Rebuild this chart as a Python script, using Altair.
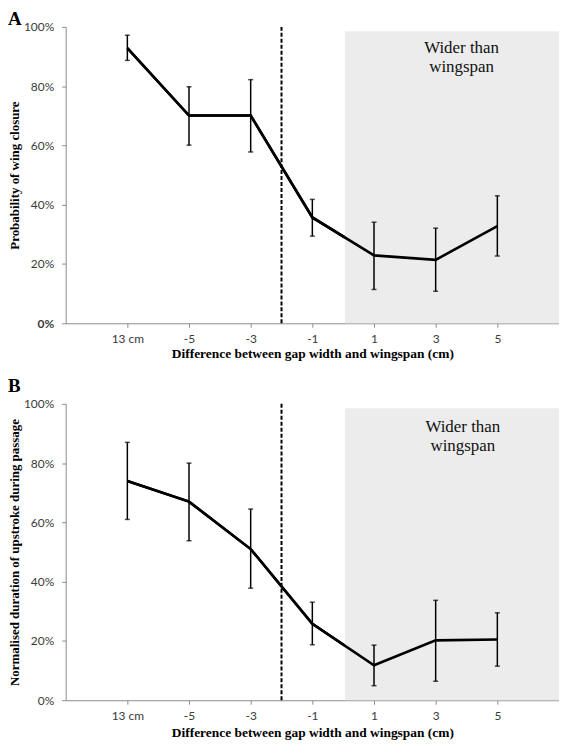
import altair as alt
import pandas as pd

# ---- data ----
categories = ["13 cm", "-5", "-3", "-1", "1", "3", "5"]

a_mean = [92.8, 70.1, 70.1, 35.7, 22.9, 21.4, 32.8]
a_hi = [97.2, 79.8, 82.2, 41.8, 34.1, 32.1, 43.0]
a_lo = [88.7, 60.1, 57.8, 29.4, 11.4, 10.8, 22.7]

b_mean = [74.0, 67.0, 51.0, 25.8, 11.8, 20.2, 20.5]
b_hi = [87.0, 80.0, 64.5, 33.1, 18.6, 33.7, 29.5]
b_lo = [61.0, 53.8, 37.8, 18.7, 4.9, 6.4, 11.5]

# category slots on the axis (1..7), with one empty slot on each side
slots = list(range(1, len(categories) + 1))
x_domain = [0, len(categories) + 1]
threshold_x = 3.5       # dashed line between -3 and -1
wider_from = 4.53       # shaded region start (between -1 and 1)
shade_top = 98.5

SERIF = "Liberation Serif"
SANS = "Lato"

label_expr = "{" + ",".join(f"'{s}':'{c}'" for s, c in zip(slots, categories)) + "}[datum.value]"


def panel(letter, ytitle, mean, hi, lo, text_x, text_y, bold_zero, letter_dy, xtitle_pad):
    df = pd.DataFrame({"slot": slots, "cat": categories, "mean": mean, "hi": hi, "lo": lo})

    yaxis_kwargs = dict(
        values=[0, 20, 40, 60, 80, 100],
        labelExpr="datum.value + '%'",
        grid=False,
        domainColor="#8c8c8c",
        tickColor="#8c8c8c",
        tickSize=4,
        labelFont=SANS,
        labelFontSize=12,
        labelColor="#3a3a3a",
        labelPadding=8,
        title=ytitle,
        titleFont=SERIF,
        titleFontSize=13,
        titleFontWeight="bold",
        titleColor="black",
        titlePadding=2,
    )
    if bold_zero:
        yaxis_kwargs["labelFontWeight"] = {
            "condition": {"test": "datum.value === 0", "value": "bold"},
            "value": "normal",
        }

    x = alt.X(
        "slot:Q",
        scale=alt.Scale(domain=x_domain, nice=False, zero=False),
        axis=alt.Axis(
            values=slots,
            labelExpr=label_expr,
            grid=False,
            domainColor="#8c8c8c",
            tickColor="#8c8c8c",
            tickSize=4,
            labelFont=SANS,
            labelFontSize=12,
            labelColor="#3a3a3a",
            labelPadding=6,
            title="Difference between gap width and wingspan (cm)",
            titleFont=SERIF,
            titleFontSize=13.5,
            titleFontWeight="bold",
            titleColor="black",
            titlePadding=xtitle_pad,
        ),
    )
    y = alt.Y("mean:Q", scale=alt.Scale(domain=[0, 100], nice=False), axis=alt.Axis(**yaxis_kwargs))

    shade_df = pd.DataFrame({"x0": [wider_from], "x1": [x_domain[1]], "y0": [0], "y1": [shade_top]})
    shade = alt.Chart(shade_df).mark_rect(color="#ececec").encode(
        x=alt.X("x0:Q", scale=alt.Scale(domain=x_domain, nice=False, zero=False)),
        x2="x1:Q",
        y=alt.Y("y0:Q", scale=alt.Scale(domain=[0, 100], nice=False)),
        y2="y1:Q",
    )

    thr_df = pd.DataFrame({"x": [threshold_x], "y0": [0], "y1": [100]})
    dashed = alt.Chart(thr_df).mark_rule(color="black", strokeWidth=2, strokeDash=[4, 2]).encode(
        x="x:Q", y="y0:Q", y2="y1:Q"
    )

    base = alt.Chart(df)
    bars = base.mark_rule(color="black", strokeWidth=1.5).encode(
        x="slot:Q", y="lo:Q", y2="hi:Q"
    )
    cap_hi = base.mark_tick(color="black", orient="horizontal", size=5, thickness=1.5).encode(
        x="slot:Q", y="hi:Q"
    )
    cap_lo = base.mark_tick(color="black", orient="horizontal", size=5, thickness=1.5).encode(
        x="slot:Q", y="lo:Q"
    )
    line = base.mark_line(color="black", strokeWidth=2.6).encode(x=x, y=y)

    label = alt.Chart(pd.DataFrame({"t": ["Wider than wingspan"]})).mark_text(
        text=["Wider than", "wingspan"],
        font=SERIF,
        fontSize=17,
        lineHeight=19,
        align="center",
        baseline="middle",
        color="#111111",
    ).encode(x=alt.datum(text_x), y=alt.datum(text_y))

    letter_mark = alt.Chart(pd.DataFrame({"t": [letter]})).mark_text(
        text=letter,
        font=SERIF,
        fontSize=19,
        fontWeight="bold",
        align="left",
        baseline="top",
        color="black",
    ).encode(x=alt.value(-58), y=alt.value(letter_dy))

    return alt.layer(line, shade, dashed, bars, cap_hi, cap_lo, line, label, letter_mark).properties(
        width=496, height=298
    )


chart_a = panel("A", "Probability of wing closure", a_mean, a_hi, a_lo, 6.42, 93.0, True, -17, 2)
chart_b = panel("B", "Normalised duration of upstroke during passage", b_mean, b_hi, b_lo, 6.44, 92.3, False, -27, 4)

chart = alt.vconcat(chart_a, chart_b, spacing=17).properties(padding=0).configure_view(
    stroke=None
)

chart.save("out.html", embed_options={"renderer": "svg", "actions": False})
